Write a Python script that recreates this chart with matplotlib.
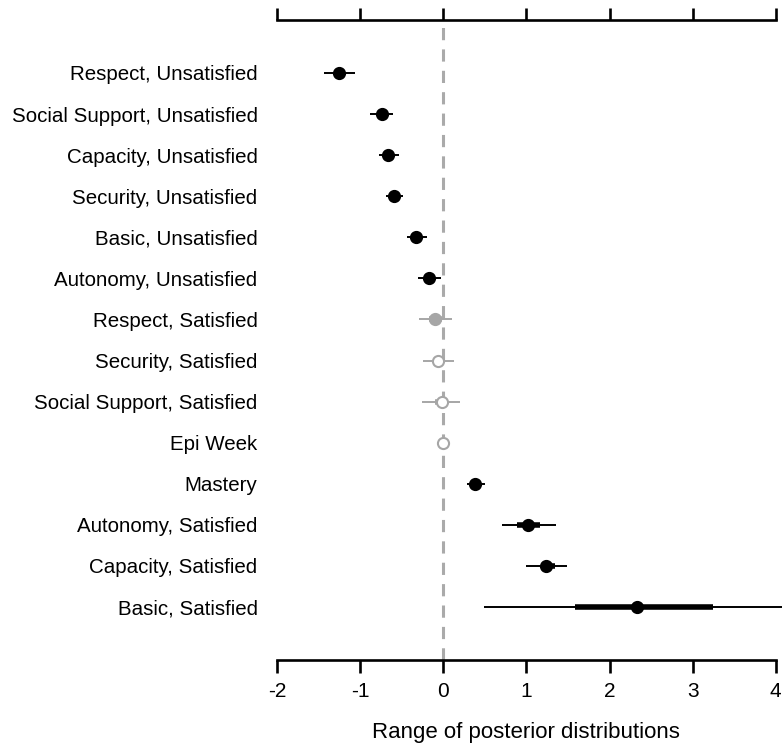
import numpy as np
import matplotlib
matplotlib.use('Agg')
import matplotlib.pyplot as plt

##### posterior intervals
labels = ['Respect, Unsatisfied',
          'Social Support, Unsatisfied',
          'Capacity, Unsatisfied',
          'Security, Unsatisfied',
          'Basic, Unsatisfied',
          'Autonomy, Unsatisfied',
          'Respect, Satisfied',
          'Security, Satisfied',
          'Social Support, Satisfied',
          'Epi Week',
          'Mastery',
          'Autonomy, Satisfied',
          'Capacity, Satisfied',
          'Basic, Satisfied']

median = [-1.25, -0.74, -0.66, -0.59, -0.33, -0.17, -0.10, -0.06, -0.02, 0.0,
          0.38, 1.02, 1.23, 2.33]
inner_lo = [-1.31, -0.79, -0.71, -0.64, -0.37, -0.22, -0.17, -0.12, -0.10, -0.005,
            0.33, 0.89, 1.17, 1.59]
inner_hi = [-1.18, -0.68, -0.61, -0.55, -0.29, -0.12, -0.02, 0.01, 0.06, 0.005,
            0.44, 1.16, 1.35, 3.25]
outer_lo = [-1.43, -0.88, -0.77, -0.69, -0.44, -0.30, -0.29, -0.24, -0.26, -0.005,
            0.28, 0.71, 0.99, 0.49]
outer_hi = [-1.06, -0.60, -0.53, -0.48, -0.20, -0.03, 0.10, 0.13, 0.20, 0.005,
            0.50, 1.36, 1.49, 4.30]

x_ticks = [-2, -1, 0, 1, 2, 3, 4]
x_label = 'Range of posterior distributions'


def style_for(i):
    # black when the outer interval excludes zero, grey otherwise;
    # grey points are filled only if the inner interval excludes zero
    if outer_lo[i] > 0 or outer_hi[i] < 0:
        return 'black', 'black'
    grey = '#a6a6a6'
    if inner_lo[i] > 0 or inner_hi[i] < 0:
        return grey, grey
    return grey, 'white'


def plot_intervals():
    plt.rcParams['font.family'] = ['Liberation Sans', 'DejaVu Sans']
    fig = plt.figure(figsize=(7.82, 7.48), dpi=100)
    ax = fig.add_axes([277 / 782, 1 - 660 / 748, 1 - 277 / 782, 640 / 748])

    n = len(labels)
    y = np.arange(n, 0, -1)

    ax.axvline(0, color='#aaaaaa', lw=2.2, ls=(0, (4, 3)), zorder=1)

    for i in range(n):
        col, face = style_for(i)
        ax.plot([outer_lo[i], outer_hi[i]], [y[i], y[i]], color=col, lw=1.4,
                solid_capstyle='butt', zorder=2)
        ax.plot([inner_lo[i], inner_hi[i]], [y[i], y[i]], color=col, lw=4,
                solid_capstyle='butt', zorder=3)
        ax.plot(median[i], y[i], 'o', ms=8, mfc=face, mec=col, mew=1.5, zorder=4)

    xmin, xmax = -2, 4.075
    ax.set_xlim(xmin, xmax)
    ax.set_ylim(1 - 1.29, n + 1.29)

    ax.set_yticks(y)
    ax.set_yticklabels(labels, fontsize=14.8)
    ax.tick_params(axis='y', length=0, pad=14)

    ax.set_xticks(x_ticks)
    ax.set_xticklabels([str(t) for t in x_ticks], fontsize=15)
    ax.tick_params(axis='x', which='both', direction='out', length=9, width=1.9,
                   top=True, labeltop=False, pad=7)
    ax.set_xlabel(x_label, fontsize=16, labelpad=15)
    # centre the label under the drawn axis (-2..4), not the whole axes box
    ax.xaxis.label.set_x((np.mean([x_ticks[0], x_ticks[-1]]) - xmin) / (xmax - xmin))

    for side in ['left', 'right']:
        ax.spines[side].set_visible(False)
    for side in ['top', 'bottom']:
        ax.spines[side].set_linewidth(1.9)
        ax.spines[side].set_bounds(x_ticks[0], x_ticks[-1])

    fig.savefig('out.png', dpi=100)


plot_intervals()
